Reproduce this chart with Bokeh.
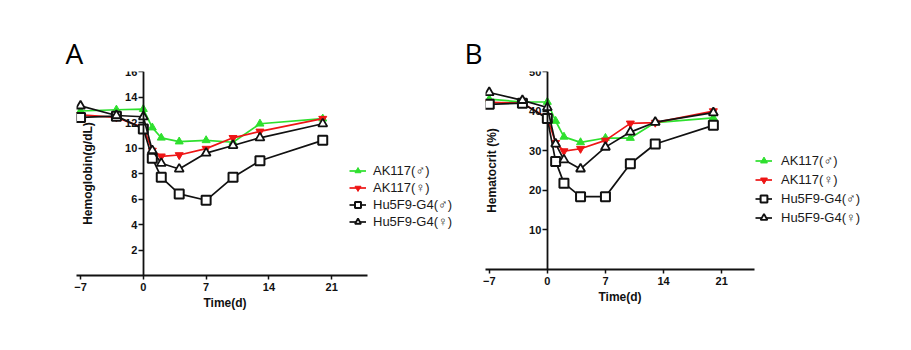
from bokeh.plotting import figure
from bokeh.layouts import row
from bokeh.models import Range1d, FixedTicker, Legend, LegendItem, LinearAxis, Title
from bokeh.embed import file_html
from bokeh.resources import INLINE

days = [-7, -3, 0, 1, 2, 4, 7, 10, 13, 20]
x_ticks = [-7, 0, 7, 14, 21]
x_label = "Time(d)"

series_names = ["AK117(♂)", "AK117(♀)", "Hu5F9-G4(♂)", "Hu5F9-G4(♀)"]

# Panel A: Hemoglobin (g/dL)
ak_m_hb = [12.9, 13.0, 13.05, 11.6, 10.8, 10.5, 10.6, 10.45, 11.9, 12.3]
ak_f_hb = [12.6, 12.4, 11.6, 9.8, 9.35, 9.45, 9.95, 10.8, 11.3, 12.3]
hu_m_hb = [12.4, 12.5, 11.5, 9.2, 7.7, 6.4, 5.9, 7.7, 9.0, 10.6]
hu_f_hb = [13.3, 12.55, 12.45, 9.8, 8.8, 8.35, 9.6, 10.2, 10.8, 11.9]
hb_ticks = [2, 4, 6, 8, 10, 12, 14, 16]

# Panel B: Hematocrit (%)
ak_m_hct = [43.0, 42.3, 42.3, 37.5, 33.5, 32.1, 33.2, 33.2, 37.1, 38.3]
ak_f_hct = [42.2, 42.0, 38.3, 32.0, 29.9, 30.5, 32.6, 36.9, 37.1, 40.0]
hu_m_hct = [41.7, 42.0, 38.1, 27.3, 21.8, 18.4, 18.4, 26.7, 31.7, 36.4]
hu_f_hct = [44.7, 42.7, 40.9, 31.7, 27.7, 25.4, 30.9, 34.7, 37.2, 39.6]
hct_ticks = [10, 20, 30, 40, 50]

GREEN = "#2ee02e"
RED = "#ee1515"
BLACK = "#111111"
FONT = "Liberation Sans"

styles = [
    dict(color=GREEN, marker="triangle", fill=GREEN, size=8, lw=1.0),
    dict(color=RED, marker="inverted_triangle", fill=RED, size=8, lw=1.0),
    dict(color=BLACK, marker="square", fill="white", size=9, lw=2.0),
    dict(color=BLACK, marker="triangle", fill="white", size=9, lw=1.8),
]

X_START = -7.45
AXIS_END = 25


def make_panel(letter, ys, y_max, y_ticks, y_label, left, top, fw, fh, bottom,
               x_end, title_offset, xlabel_offset, label_standoff_y, legend_loc,
               glyph_h, leg_standoff):
    p = figure(output_backend="svg", toolbar_location=None,
               frame_width=fw, frame_height=fh,
               min_border_left=left, min_border_right=0,
               min_border_top=top, min_border_bottom=bottom,
               x_range=Range1d(X_START, x_end), y_range=Range1d(0, y_max),
               y_axis_location=None)
    p.background_fill_color = "white"
    p.border_fill_color = "white"
    p.outline_line_color = None
    p.grid.visible = False

    p.title.text = letter
    p.title.text_font = "Open Sans"
    p.title.text_font_style = "normal"
    p.title.text_font_size = "28px"
    p.title.text_color = "black"
    p.title.offset = title_offset
    p.title.standoff = 0

    yax = LinearAxis(fixed_location=0)
    p.add_layout(yax, "left")
    for ax in (p.xaxis[0], yax):
        ax.axis_line_width = 1.8
        ax.axis_line_color = BLACK
        ax.major_tick_line_width = 1.5
        ax.major_tick_line_color = BLACK
        ax.major_tick_in = 0
        ax.minor_tick_line_color = None
        ax.major_label_text_font = FONT
        ax.major_label_text_font_style = "bold"
        ax.major_label_text_font_size = "11px"
        ax.major_label_text_color = BLACK
        ax.axis_label_text_font = FONT
        ax.axis_label_text_font_style = "bold"
        ax.axis_label_text_color = BLACK

    p.xaxis.ticker = FixedTicker(ticks=x_ticks)
    p.xaxis.bounds = (X_START, AXIS_END)
    p.xaxis.major_tick_out = 4
    p.xaxis.major_label_standoff = 3

    xt = Title(text=x_label, align="left", offset=xlabel_offset, standoff=1,
               text_font=FONT, text_font_style="bold", text_font_size="12px",
               text_color=BLACK)
    p.add_layout(xt, "below")

    yax.ticker = FixedTicker(ticks=y_ticks)
    yax.major_tick_out = 5
    yax.major_label_standoff = 1
    yax.axis_label = y_label
    yax.axis_label_text_font_size = "12px"
    yax.axis_label_standoff = label_standoff_y

    items = []
    for name, vals, st in zip(series_names, ys, styles):
        ln = p.line(days, vals, line_color=st["color"], line_width=1.7)
        sc = p.scatter(days, vals, marker=st["marker"], size=st["size"],
                       line_color=st["color"], fill_color=st["fill"],
                       line_width=st["lw"])
        items.append(LegendItem(label=name, renderers=[ln, sc]))

    leg = Legend(items=items, location=legend_loc, orientation="vertical")
    leg.border_line_color = None
    leg.background_fill_alpha = 0
    leg.padding = 0
    leg.margin = 0
    leg.spacing = 2
    leg.glyph_width = 17
    leg.glyph_height = glyph_h
    leg.label_height = glyph_h
    leg.label_standoff = leg_standoff
    leg.label_text_font = FONT
    leg.label_text_font_size = "13px"
    leg.label_text_color = "#1a1a1a"
    p.add_layout(leg, "center")
    return p


pa = make_panel("A", [ak_m_hb, ak_f_hb, hu_m_hb, hu_f_hb], 16, hb_ticks,
                "Hemoglobin(g/dL)", left=76, top=69, fw=379, fh=204, bottom=77,
                x_end=34.8, title_offset=-11, xlabel_offset=127, label_standoff_y=27,
                legend_loc=(273, 46), glyph_h=15, leg_standoff=7)

pb = make_panel("B", [ak_m_hct, ak_f_hct, hu_m_hct, hu_f_hct], 50, hct_ticks,
                "Hematocrit (%)", left=30, top=71, fw=426, fh=198, bottom=81,
                x_end=43.87, title_offset=-21, xlabel_offset=113, label_standoff_y=27,
                legend_loc=(270, 43), glyph_h=17, leg_standoff=9)

layout = row(pa, pb)
open("out.html", "w").write(file_html(layout, INLINE))
